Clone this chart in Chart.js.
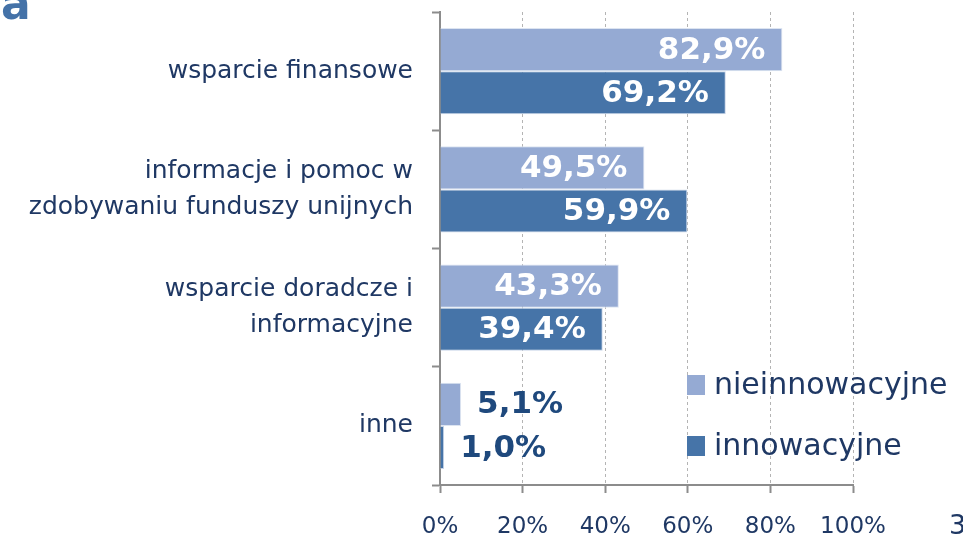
<!DOCTYPE html>
<html>
<head>
<meta charset="utf-8">
<script src="https://cdn.jsdelivr.net/npm/chart.js@4"></script>
<style>
  html, body { margin: 0; padding: 0; background: #ffffff; }
  #wrap { width: 963px; height: 539px; position: relative; }
</style>
</head>
<body>
<div id="wrap"><canvas id="barChartCanvas"></canvas></div>
<script>
let categories = [
    'wsparcie finansowe',
    ['informacje i pomoc w', 'zdobywaniu funduszy unijnych'],
    ['wsparcie doradcze i', 'informacyjne'],
    'inne'
];
let nieinnowacyjne = [82.9, 49.5, 43.3, 5.1];
let innowacyjne = [69.2, 59.9, 39.4, 1.0];
let xTicks = [0, 20, 40, 60, 80, 100];

let textColor = '#1F3864';
let fontName = '"DejaVu Sans", Verdana, sans-serif';

// value labels: white inside the bar end, navy outside when bar is short
let valueLabels = {
    id: 'valueLabels',
    afterDatasetsDraw(chart) {
        let ctx = chart.ctx;
        ctx.save();
        ctx.font = 'bold 31px ' + fontName;
        ctx.textBaseline = 'middle';
        chart.data.datasets.forEach((ds, i) => {
            chart.getDatasetMeta(i).data.forEach((bar, j) => {
                let txt = ds.data[j].toFixed(1).replace('.', ',') + '%';
                let w = ctx.measureText(txt).width;
                if (bar.x - bar.base > w + 30) {
                    ctx.fillStyle = '#ffffff';
                    ctx.textAlign = 'right';
                    ctx.fillText(txt, bar.x - 17, bar.y + 1);
                } else {
                    ctx.fillStyle = '#1F497D';
                    ctx.textAlign = 'left';
                    ctx.fillText(txt, bar.x + 16, bar.y + 1);
                }
            });
        });
        ctx.restore();
    }
};

let sideLegend = {
    id: 'sideLegend',
    afterDraw(chart) {
        let ctx = chart.ctx;
        ctx.save();
        ctx.font = '30px ' + fontName;
        ctx.textBaseline = 'middle';
        ctx.textAlign = 'left';
        chart.data.datasets.forEach((ds, i) => {
            let y = 385 + i * 61;
            ctx.fillStyle = ds.backgroundColor;
            ctx.fillRect(687, y - 10, 18, 20);
            ctx.fillStyle = textColor;
            ctx.fillText(ds.label, 714, y + 1);
        });
        // fragments cut at the edges of the slide
        ctx.fillStyle = '#4472A8';
        ctx.font = 'bold 44px ' + fontName;
        ctx.textBaseline = 'alphabetic';
        ctx.fillText('a', 1, 19);
        ctx.fillStyle = textColor;
        ctx.font = '27px ' + fontName;
        ctx.textBaseline = 'middle';
        ctx.fillText('3', 949, 527);
        ctx.restore();
    }
};

let barCtx = document.getElementById('barChartCanvas').getContext('2d');

let barChart = new Chart(barCtx, {
    type: 'bar',
    data: {
        labels: categories,
        datasets: [{
            label: 'nieinnowacyjne',
            data: nieinnowacyjne,
            backgroundColor: '#95AAD3',
            borderColor: '#DCE4F1',
            borderWidth: 1
        }, {
            label: 'innowacyjne',
            data: innowacyjne,
            backgroundColor: '#4674A8',
            borderColor: '#C9D5E8',
            borderWidth: 1
        }]
    },
    options: {
        indexAxis: 'y',
        responsive: true,
        maintainAspectRatio: false,
        animation: false,
        layout: {
            padding: { top: 12, right: 110, bottom: 0, left: 0 }
        },
        datasets: {
            bar: { categoryPercentage: 0.73, barPercentage: 1 }
        },
        scales: {
            x: {
                min: 0,
                max: 100,
                afterBuildTicks(scale) {
                    scale.ticks = xTicks.map(v => ({ value: v }));
                },
                afterFit(scale) {
                    scale.height = 54;
                    scale.paddingLeft = 0;
                    scale.paddingRight = 0;
                },
                border: { display: true, color: '#8C8C8C', width: 2, dash: [3, 3] },
                grid: {
                    color: '#B4B4B4',
                    tickColor: '#8C8C8C',
                    tickBorderDash: [],
                    tickLength: 8,
                    lineWidth: 1,
                    tickWidth: 2
                },
                ticks: {
                    color: textColor,
                    padding: 20,
                    font: { size: 23, family: fontName },
                    callback: v => v + '%'
                }
            },
            y: {
                afterFit(scale) {
                    scale.width = 440;
                    scale.paddingTop = 0;
                    scale.paddingBottom = 0;
                },
                border: { display: true, color: '#8C8C8C', width: 2 },
                grid: {
                    drawOnChartArea: false,
                    offset: true,
                    tickColor: '#8C8C8C',
                    tickLength: 8,
                    tickWidth: 2
                },
                ticks: {
                    color: textColor,
                    padding: 19,
                    font: { size: 25, family: fontName, lineHeight: 1.45 }
                }
            }
        },
        plugins: {
            legend: { display: false },
            tooltip: { enabled: false }
        }
    },
    plugins: [valueLabels, sideLegend]
});
</script>
</body>
</html>
